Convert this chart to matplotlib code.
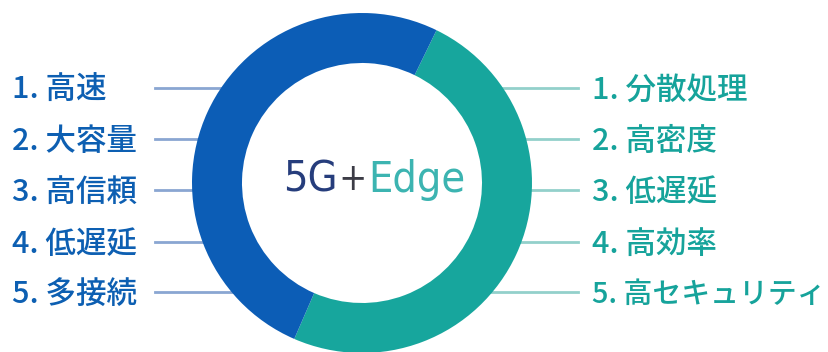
import numpy as np
import matplotlib.pyplot as plt

plt.rcParams['font.family'] = ['Noto Sans CJK JP', 'DejaVu Sans']

# donut shares (teal = Edge, blue = 5G)
shares = [49.3, 50.7]
ring_colors = ['#17a69d', '#0c5db6']

left_labels = ['1. 高速', '2. 大容量', '3. 高信頼', '4. 低遅延', '5. 多接続']
right_labels = ['1. 分散処理', '2. 高密度', '3. 低遅延', '4. 高効率', '5. 高セキュリティ']
blue_text = '#0d5fb2'
teal_text = '#16a39b'

W, H = 829, 352
cx, cy = 362, H - 183
r_out, ring_w = 170, 50

fig = plt.figure(figsize=(W / 100, H / 100), dpi=100)
ax = fig.add_axes([0, 0, 1, 1])

ax.pie(shares, colors=ring_colors, startangle=64, counterclock=False,
       radius=r_out, center=(cx, cy), frame=True,
       wedgeprops=dict(width=ring_w, linewidth=0))
ax.set_xlim(0, W)
ax.set_ylim(0, H)
ax.set_aspect('equal')
ax.axis('off')

row_y = [H - 88, H - 139, H - 190, H - 242, H - 292]
r_mid = r_out - ring_w / 2
for i, y in enumerate(row_y):
    dy = y - cy
    dx = np.sqrt(r_mid ** 2 - dy ** 2)
    ax.plot([155, cx - dx], [y, y], color='#8aa6d2', lw=2, zorder=0)
    ax.plot([cx + dx, 578], [y, y], color='#93d0cb', lw=2, zorder=0)
    ax.text(12, y + 1, left_labels[i], color=blue_text, fontsize=22,
            va='center_baseline', ha='left', fontweight='medium')
    # the long katakana label has to fit inside the right edge
    fs = 20.8 if len(right_labels[i]) > 8 else 22
    ax.text(592, y + 1, right_labels[i], color=teal_text, fontsize=fs,
            va='center_baseline', ha='left', fontweight='medium')

# center title in a condensed face
tkw = dict(family='DejaVu Sans', fontstretch='condensed', va='center',
           ha='left', fontweight='light')
t1 = ax.text(283, cy + 3, '5G', color='#263d7c', fontsize=31, **tkw)
fig.canvas.draw()
bb = t1.get_window_extent()
x2 = ax.transData.inverted().transform((bb.x1, 0))[0]
t2 = ax.text(x2 + 1, cy + 3, '+', color='#3c3c46', fontsize=27, **tkw)
bb = t2.get_window_extent()
x3 = ax.transData.inverted().transform((bb.x1, 0))[0]
ax.text(x3 + 1, cy + 3, 'Edge', color='#3cb4b1', fontsize=31, **tkw)

fig.savefig('out.png', dpi=100)
